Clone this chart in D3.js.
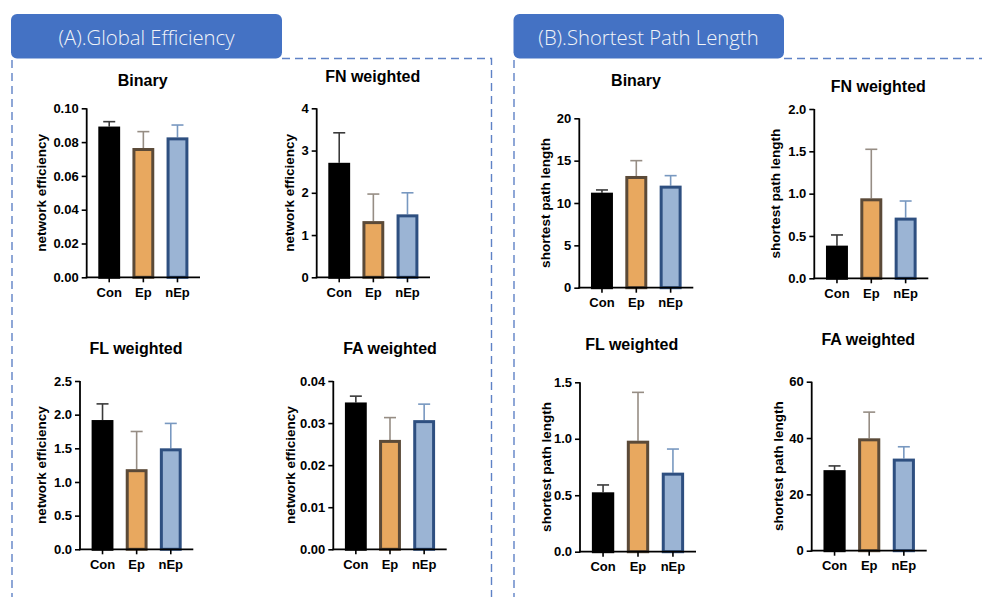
<!DOCTYPE html>
<html>
<head>
<meta charset="utf-8">
<script src="https://cdn.jsdelivr.net/npm/d3@7/dist/d3.min.js"></script>
<style>
html,body{margin:0;padding:0;background:#fff;}
svg{display:block;}
</style>
</head>
<body>
<svg id="chart" width="982" height="597"></svg>
<script>
// ---------- data ----------
const groups = ["Con", "Ep", "nEp"];

const effBinaryMean = [0.0892, 0.0765, 0.0828];
const effBinarySD   = [0.0029, 0.0097, 0.0073];
const effFNMean     = [2.71, 1.33, 1.49];
const effFNSD       = [0.71, 0.64, 0.51];
const effFLMean     = [1.92, 1.19, 1.50];
const effFLSD       = [0.24, 0.56, 0.37];
const effFAMean     = [0.0349, 0.0260, 0.0307];
const effFASD       = [0.0015, 0.0053, 0.0038];

const splBinaryMean = [11.22, 13.19, 12.05];
const splBinarySD   = [0.32, 1.81, 1.18];
const splFNMean     = [0.386, 0.945, 0.717];
const splFNSD       = [0.126, 0.579, 0.196];
const splFLMean     = [0.526, 0.983, 0.700];
const splFLSD       = [0.065, 0.428, 0.209];
const splFAMean     = [28.6, 39.9, 32.7];
const splFASD       = [1.5, 9.3, 4.2];

const effBinaryTicks = [0, 0.02, 0.04, 0.06, 0.08, 0.10];
const effFNTicks     = [0, 1, 2, 3, 4];
const effFLTicks     = [0, 0.5, 1.0, 1.5, 2.0, 2.5];
const effFATicks     = [0, 0.01, 0.02, 0.03, 0.04];
const splBinaryTicks = [0, 5, 10, 15, 20];
const splFNTicks     = [0, 0.5, 1.0, 1.5, 2.0];
const splFLTicks     = [0, 0.5, 1.0, 1.5];
const splFATicks     = [0, 20, 40, 60];

const sectionTitles = ["(A).Global Efficiency", "(B).Shortest Path Length"];
const effLabel = "network efficiency";
const splLabel = "shortest path length";

// ---------- styles ----------
const fills   = ["#000000", "#E8A85F", "#9BB4D4"];
const strokes = ["#000000", "#5B4A38", "#2E4F80"];
const errCols = ["#3a3a3a", "#968d84", "#7898c0"];

// ---------- layout (panel frames) ----------
const panels = [
  {title:"Binary",      mean:effBinaryMean, sd:effBinarySD, ticks:effBinaryTicks, fmt:".2f", ylab:effLabel,
   ax:86.7, yTop:108.3, yBot:277.3, xEnd:200, tx:142.7, ty:80.7, lx:41.7},
  {title:"FN weighted", mean:effFNMean, sd:effFNSD, ticks:effFNTicks, fmt:".0f", ylab:effLabel,
   ax:316.7, yTop:108.3, yBot:277.3, xEnd:430, tx:372.7, ty:76, lx:289.5},
  {title:"FL weighted", mean:effFLMean, sd:effFLSD, ticks:effFLTicks, fmt:".1f", ylab:effLabel,
   ax:80, yTop:381, yBot:549.3, xEnd:193.3, tx:136, ty:348.3, lx:41.7},
  {title:"FA weighted", mean:effFAMean, sd:effFASD, ticks:effFATicks, fmt:".2f", ylab:effLabel,
   ax:333.3, yTop:381, yBot:549.3, xEnd:446.7, tx:390, ty:348.3, lx:290},
  {title:"Binary",      mean:splBinaryMean, sd:splBinarySD, ticks:splBinaryTicks, fmt:".0f", ylab:splLabel,
   ax:579.3, yTop:118.3, yBot:287.7, xEnd:693.3, tx:636, ty:80.7, lx:545},
  {title:"FN weighted", mean:splFNMean, sd:splFNSD, ticks:splFNTicks, fmt:".1f", ylab:splLabel,
   ax:814.3, yTop:109, yBot:278.3, xEnd:928.3, tx:878.3, ty:86, lx:775},
  {title:"FL weighted", mean:splFLMean, sd:splFLSD, ticks:splFLTicks, fmt:".1f", ylab:splLabel,
   ax:580, yTop:382.3, yBot:551.7, xEnd:696, tx:631.7, ty:344, lx:546.7},
  {title:"FA weighted", mean:splFAMean, sd:splFASD, ticks:splFATicks, fmt:".0f", ylab:splLabel,
   ax:811.7, yTop:381.7, yBot:550.7, xEnd:926.7, tx:868.3, ty:339.3, lx:778.3}
];

const svg = d3.select("#chart");
const FONT = "'Liberation Sans', Arial, Helvetica, sans-serif";

// ---------- section frames ----------
const dashCol = "#5F82C6";
const frame = svg.append("g").attr("fill","none").attr("stroke",dashCol)
  .attr("stroke-width",1.4).attr("stroke-dasharray","8,5");
frame.append("path").attr("d", d3.line()([[282,58.5],[491.5,58.5],[491.5,597]]));
frame.append("path").attr("d", d3.line()([[12,60],[12,597]]));
frame.append("path").attr("d", d3.line()([[784,58.5],[982,58.5]]));
frame.append("path").attr("d", d3.line()([[514,60],[514,597]]));

const headers = [{x:11, w:271, cx:146.5}, {x:513.5, w:270.5, cx:648.5}];
headers.forEach((h,i) => {
  svg.append("rect").attr("x",h.x).attr("y",14).attr("width",h.w).attr("height",44.5)
    .attr("rx",6).attr("fill","#4472C4");
  svg.append("text").attr("x",h.cx).attr("y",37).attr("text-anchor","middle")
    .attr("dominant-baseline","central")
    .attr("font-family","'Open Sans', 'Noto Sans', sans-serif").attr("font-weight",300)
    .attr("font-size",20.3).attr("fill","#F2F4F8").text(sectionTitles[i]);
});

// ---------- panels ----------
panels.forEach(p => {
  const g = svg.append("g");
  const x = d3.scaleBand().domain(groups).range([p.ax, p.xEnd])
    .paddingInner(0.36).paddingOuter(0.34);
  const yMax = p.ticks[p.ticks.length-1];
  const y = d3.scaleLinear().domain([0, yMax]).range([p.yBot, p.yTop]);

  // title
  g.append("text").attr("x",p.tx).attr("y",p.ty).attr("text-anchor","middle")
    .attr("dominant-baseline","central").attr("font-family",FONT).attr("font-weight","bold")
    .attr("font-size",16).attr("fill","#000").text(p.title);

  // y label
  g.append("text").attr("transform",`translate(${p.lx},${(p.yTop+p.yBot)/2}) rotate(-90)`)
    .attr("text-anchor","middle").attr("dominant-baseline","central")
    .attr("font-family",FONT).attr("font-weight","bold").attr("font-size",13.5)
    .attr("fill","#000").text(p.ylab);

  // error bars (drawn first so bar covers stem base)
  const data = groups.map((k,i) => ({k, m:p.mean[i], s:p.sd[i], i}));
  const capW = 6;
  data.forEach(d => {
    const cx = x(d.k) + x.bandwidth()/2;
    g.append("line").attr("x1",cx).attr("x2",cx).attr("y1",y(d.m)).attr("y2",y(d.m+d.s))
      .attr("stroke",errCols[d.i]).attr("stroke-width",1.6);
    g.append("line").attr("x1",cx-capW).attr("x2",cx+capW).attr("y1",y(d.m+d.s)).attr("y2",y(d.m+d.s))
      .attr("stroke",errCols[d.i]).attr("stroke-width",1.6);
  });

  // bars
  g.selectAll("rect.bar").data(data).join("rect").attr("class","bar")
    .attr("x", d => x(d.k) + 1.5)
    .attr("width", x.bandwidth() - 3)
    .attr("y", d => y(d.m) + 1.5)
    .attr("height", d => Math.max(0, y(0) - y(d.m) - 1.5))
    .attr("fill", d => fills[d.i])
    .attr("stroke", d => strokes[d.i])
    .attr("stroke-width", 3);

  // y axis
  const yAxis = d3.axisLeft(y).tickValues(p.ticks).tickFormat(d3.format(p.fmt))
    .tickSizeOuter(0).tickSize(5).tickPadding(3);
  const ya = g.append("g").attr("transform",`translate(${p.ax},0)`).call(yAxis);
  ya.select(".domain").attr("stroke","#000").attr("stroke-width",1.8)
    .attr("d",`M0,${p.yTop}V${p.yBot+0.9}`);
  ya.selectAll(".tick line").attr("stroke","#000").attr("stroke-width",1.6);
  ya.selectAll(".tick text").attr("font-family",FONT).attr("font-weight","bold")
    .attr("font-size",13).attr("fill","#000");

  // x axis
  const xAxis = d3.axisBottom(x).tickSizeOuter(0).tickSize(5).tickPadding(5);
  const xa = g.append("g").attr("transform",`translate(0,${p.yBot})`).call(xAxis);
  xa.select(".domain").attr("stroke","#000").attr("stroke-width",1.8)
    .attr("d",`M${p.ax-0.9},0H${p.xEnd}`);
  xa.selectAll(".tick line").attr("stroke","#000").attr("stroke-width",1.6);
  xa.selectAll(".tick text").attr("font-family",FONT).attr("font-weight","bold")
    .attr("font-size",13).attr("fill","#000");
});
</script>
</body>
</html>
